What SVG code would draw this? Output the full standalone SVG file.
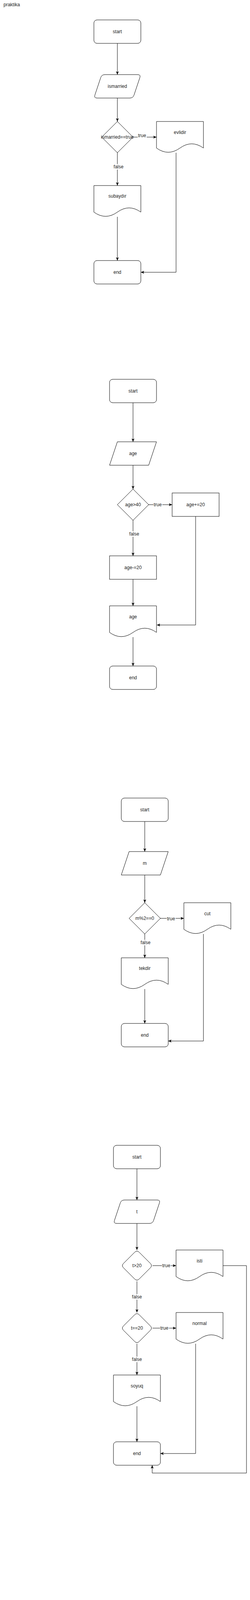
<svg xmlns="http://www.w3.org/2000/svg" xmlns:xlink="http://www.w3.org/1999/xlink" width="639" height="7225" viewBox="0 0 639 7225">
<style>
.s{fill:#fff;stroke:#000;stroke-width:1}
.t{font-family:"Liberation Sans",Arial,sans-serif;font-size:12px;fill:#222;text-anchor:middle;dominant-baseline:central}
.e{fill:none;stroke:#000;stroke-width:1;marker-end:url(#arr)}
.lb{fill:#fff}
</style>
<defs>
<marker id="arr" markerUnits="userSpaceOnUse" markerWidth="9" markerHeight="9" viewBox="0 0 9 9" refX="8.5" refY="4.5" orient="auto">
<path d="M0,0.8 L8.5,4.5 L0,8.2 L2.2,4.5 Z" fill="#000"/>
</marker>
<rect id="term" width="120" height="60" rx="8" ry="8" class="s"/>
<rect id="proc" width="120" height="60" class="s"/>
<path id="doc" class="s" d="M0,0 H120 V68 Q90,46.4 60,68 Q30,89.6 0,68 Z"/>
<path id="para" class="s" d="M20,0 H120 L100,60 H0 Z"/>
<path id="rpara" class="s" d="M28,0 L112,0 Q120,0 117.47,7.59 L102.53,52.41 Q100,60 92,60 L8,60 Q0,60 2.53,52.41 L17.47,7.59 Q20,0 28,0 Z"/>
<path id="dia" class="s" d="M40,0 L80,40 L40,80 L0,40 Z"/>
<path id="rdia" class="s" d="M34.34,5.66 Q40,0 45.66,5.66 L74.34,34.34 Q80,40 74.34,45.66 L45.66,74.34 Q40,80 34.34,74.34 L5.66,45.66 Q0,40 5.66,34.34 Z"/>
<path id="hex" class="s" d="M20,0 H100 L120,40 L100,80 H20 L0,40 Z"/>
</defs>
<rect width="639" height="7225" fill="#fff"/>
<text x="9" y="12" style="font-family:'Liberation Sans',Arial,sans-serif;font-size:12px;fill:#222;dominant-baseline:central">praktika</text>

<g id="connectors">
<!-- sec1 -->
<path class="e" d="M300,111 V191"/>
<path class="e" d="M300,251 V311"/>
<path class="e" d="M340,351 H400"/>
<path class="e" d="M300,391 V475"/>
<path class="e" d="M300,555 V667"/>
<path class="e" d="M450,391 V697 H360"/>
<!-- sec2 -->
<path class="e" d="M340,1031 V1131"/>
<path class="e" d="M340,1191 V1252"/>
<path class="e" d="M380,1292 H440"/>
<path class="e" d="M340,1332 V1423"/>
<path class="e" d="M340,1483 V1551"/>
<path class="e" d="M500,1322 V1600 H401"/>
<path class="e" d="M340,1631 V1705"/>
<!-- sec3 -->
<path class="e" d="M370,2103 V2180"/>
<path class="e" d="M370,2240 V2311"/>
<path class="e" d="M410,2351 H470"/>
<path class="e" d="M370,2391 V2452"/>
<path class="e" d="M370,2532 V2620"/>
<path class="e" d="M520,2391 V2665 H430"/>
<!-- sec4 -->
<path class="e" d="M350,2992 V3072"/>
<path class="e" d="M350,3132 V3200"/>
<path class="e" d="M390,3240 H450"/>
<path class="e" d="M350,3280 V3360"/>
<path class="e" d="M390,3400 H450"/>
<path class="e" d="M350,3440 V3520"/>
<path class="e" d="M350,3600 V3691"/>
<path class="e" d="M500,3440 V3721 H410"/>
<path class="e" d="M570,3240 H630 V3771 H389 V3751"/>
<!-- sec5 -->
<path class="e" d="M400,4193 V4274"/>
<path class="e" d="M400,4334 V4404"/>
<path class="e" d="M440,4444 H500"/>
<path class="e" d="M560,4474 V4540"/>
<path class="e" d="M400,4484 V4560"/>
<path class="e" d="M400,4640 V4731"/>
<path class="e" d="M560,4620 V4761 H460"/>
<!-- sec6 -->
<path class="e" d="M420,5133 V5214"/>
<path class="e" d="M420,5274 V5342"/>
<path class="e" d="M420,5402 V5471"/>
<path class="e" d="M420,5551 V5641"/>
<!-- sec7 -->
<path class="e" d="M370,6063 V6144"/>
<path class="e" d="M370,6204 V6272"/>
<path class="e" d="M410,6312 H470"/>
<path class="e" d="M530,6342 V6411"/>
<path class="e" d="M370,6352 V6441"/>
<path class="e" d="M530,6491 V6521 H384 V6501"/>
<!-- sec8 -->
<path class="e" d="M370,6762 V6843"/>
<path class="e" d="M370,6903 V6998"/>
<path class="e" d="M430,7038 H510"/>
<path class="e" d="M560,6998 V6977 H385 V6998"/>
<path class="e" d="M370,7078 V7164"/>
<!-- labels -->
<rect class="lb" x="352" y="341" width="23" height="11"/><text class="t" x="363" y="347">true</text>
<rect class="lb" x="290" y="420" width="27" height="14"/><text class="t" x="303" y="427">false</text>
<rect class="lb" x="392" y="1285" width="23" height="14"/><text class="t" x="403" y="1292">true</text>
<rect class="lb" x="330" y="1360" width="27" height="14"/><text class="t" x="343" y="1367">false</text>
<rect class="lb" x="426" y="2345" width="23" height="14"/><text class="t" x="437" y="2352">true</text>
<rect class="lb" x="359" y="2406" width="27" height="14"/><text class="t" x="372" y="2413">false</text>
<rect class="lb" x="414" y="3233" width="23" height="14"/><text class="t" x="425" y="3240">true</text>
<rect class="lb" x="337" y="3313" width="27" height="14"/><text class="t" x="350" y="3320">false</text>
<rect class="lb" x="409" y="3393" width="23" height="14"/><text class="t" x="420" y="3400">true</text>
<rect class="lb" x="337" y="3473" width="27" height="14"/><text class="t" x="350" y="3480">false</text>
<rect class="lb" x="459" y="4437" width="23" height="14"/><text class="t" x="470" y="4444">true</text>
<rect class="lb" x="390" y="4506" width="27" height="14"/><text class="t" x="403" y="4513">false</text>
<rect class="lb" x="429" y="6305" width="23" height="14"/><text class="t" x="440" y="6312">true</text>
<rect class="lb" x="357" y="6385" width="27" height="14"/><text class="t" x="370" y="6392">false</text>
<rect class="lb" x="360" y="7107" width="27" height="14"/><text class="t" x="373" y="7114">false</text>
</g>

<!-- section 1 -->
<g id="s1-start"><use href="#term" x="240" y="51"/><text class="t" x="300" y="81">start</text></g>
<g id="s1-input"><use href="#rpara" x="240" y="191"/><text class="t" x="300" y="221">ismarried</text></g>
<g id="s1-cond"><use href="#dia" x="260" y="311"/><text class="t" x="300" y="351">ismarried==true</text></g>
<g id="s1-evlidir"><use href="#doc" x="400" y="311"/><text class="t" x="460" y="339">evlidir</text></g>
<g id="s1-subaydir"><use href="#doc" x="240" y="475"/><text class="t" x="300" y="502">subaydır</text></g>
<g id="s1-end"><use href="#term" x="240" y="667"/><text class="t" x="300" y="697">end</text></g>

<!-- section 2 -->
<g id="s2-start"><use href="#term" x="280" y="971"/><text class="t" x="340" y="1001">start</text></g>
<g id="s2-input"><use href="#para" x="280" y="1131"/><text class="t" x="340" y="1161">age</text></g>
<g id="s2-cond"><use href="#dia" x="300" y="1252"/><text class="t" x="340" y="1292">age&gt;40</text></g>
<g id="s2-plus"><use href="#proc" x="440" y="1262"/><text class="t" x="500" y="1292">age+=20</text></g>
<g id="s2-minus"><use href="#proc" x="280" y="1423"/><text class="t" x="340" y="1453">age-=20</text></g>
<g id="s2-out"><use href="#doc" x="280" y="1551"/><text class="t" x="340" y="1579">age</text></g>
<g id="s2-end"><use href="#term" x="280" y="1705"/><text class="t" x="340" y="1735">end</text></g>

<!-- section 3 -->
<g id="s3-start"><use href="#term" x="310" y="2043"/><text class="t" x="370" y="2073">start</text></g>
<g id="s3-input"><use href="#para" x="310" y="2180"/><text class="t" x="370" y="2210">m</text></g>
<g id="s3-cond"><use href="#dia" x="330" y="2311"/><text class="t" x="370" y="2351">m%2==0</text></g>
<g id="s3-cut"><use href="#doc" x="470" y="2311"/><text class="t" x="530" y="2339">cut</text></g>
<g id="s3-tekdir"><use href="#doc" x="310" y="2452"/><text class="t" x="370" y="2479">tekdir</text></g>
<g id="s3-end"><use href="#term" x="310" y="2620"/><text class="t" x="370" y="2650">end</text></g>

<!-- section 4 -->
<g id="s4-start"><use href="#term" x="290" y="2932"/><text class="t" x="350" y="2962">start</text></g>
<g id="s4-input"><use href="#rpara" x="290" y="3072"/><text class="t" x="350" y="3102">t</text></g>
<g id="s4-cond1"><use href="#rdia" x="310" y="3200"/><text class="t" x="350" y="3240">t&gt;20</text></g>
<g id="s4-isti"><use href="#doc" x="450" y="3200"/><text class="t" x="510" y="3228">isti</text></g>
<g id="s4-cond2"><use href="#rdia" x="310" y="3360"/><text class="t" x="350" y="3400">t==20</text></g>
<g id="s4-normal"><use href="#doc" x="450" y="3360"/><text class="t" x="510" y="3388">normal</text></g>
<g id="s4-soyuq"><use href="#doc" x="290" y="3520"/><text class="t" x="350" y="3548">soyuq</text></g>
<g id="s4-end"><use href="#term" x="290" y="3691"/><text class="t" x="350" y="3721">end</text></g>

<!-- section 5 -->
<g id="s5-start"><use href="#term" x="340" y="4133"/><text class="t" x="400" y="4163">start</text></g>
<g id="s5-input"><use href="#para" x="340" y="4274"/><text class="t" x="400" y="4304">n</text></g>
<g id="s5-cond"><use href="#dia" x="360" y="4404"/><text class="t" x="400" y="4444">n%2==1</text></g>
<g id="s5-plus"><use href="#proc" x="500" y="4414"/><text class="t" x="560" y="4444">n+=10</text></g>
<g id="s5-outr"><use href="#doc" x="500" y="4540"/><text class="t" x="560" y="4568">n</text></g>
<g id="s5-outl"><use href="#doc" x="340" y="4560"/><text class="t" x="400" y="4588">n</text></g>
<g id="s5-end"><use href="#term" x="340" y="4731"/><text class="t" x="400" y="4761">end</text></g>

<!-- section 6 -->
<g id="s6-start"><use href="#term" x="360" y="5073"/><text class="t" x="420" y="5103">start</text></g>
<g id="s6-input"><use href="#rpara" x="360" y="5214"/><text class="t" x="420" y="5244">n,m,sum</text></g>
<g id="s6-sum"><use href="#proc" x="360" y="5342"/><text class="t" x="420" y="5372">sum=n+m</text></g>
<g id="s6-out"><use href="#doc" x="360" y="5471"/><text class="t" x="420" y="5498">sum</text></g>
<g id="s6-end"><use href="#term" x="360" y="5641"/><text class="t" x="420" y="5671">end</text></g>

<!-- section 7 -->
<g id="s7-start"><use href="#term" x="310" y="6003"/><text class="t" x="370" y="6033">start</text></g>
<g id="s7-input"><use href="#rpara" x="310" y="6144"/><text class="t" x="370" y="6174">n,m,sum</text></g>
<g id="s7-cond"><use href="#rdia" x="330" y="6272"/><text class="t" x="370" y="6299">n%2==1</text><text class="t" x="370" y="6312">&amp;&amp;</text><text class="t" x="370" y="6325">m%2==1</text></g>
<g id="s7-sum"><use href="#proc" x="470" y="6282"/><text class="t" x="530" y="6312">sum=n+m</text></g>
<g id="s7-out"><use href="#doc" x="470" y="6411"/><text class="t" x="530" y="6438">sum</text></g>
<g id="s7-end"><use href="#term" x="310" y="6441"/><text class="t" x="370" y="6471">end</text></g>

<!-- section 8 -->
<g id="s8-start"><use href="#term" x="310" y="6702"/><text class="t" x="370" y="6732">start</text></g>
<g id="s8-input"><use href="#rpara" x="310" y="6843"/><text class="t" x="370" y="6873">m</text></g>
<g id="s8-loop"><use href="#hex" x="310" y="6998"/><text class="t" x="370" y="7038">int i=0, i&lt;=m, i++</text></g>
<g id="s8-out"><use href="#doc" x="510" y="6998"/><text class="t" x="570" y="7025">i</text></g>
<g id="s8-end"><use href="#term" x="310" y="7164"/><text class="t" x="370" y="7194">end</text></g>
</svg>
